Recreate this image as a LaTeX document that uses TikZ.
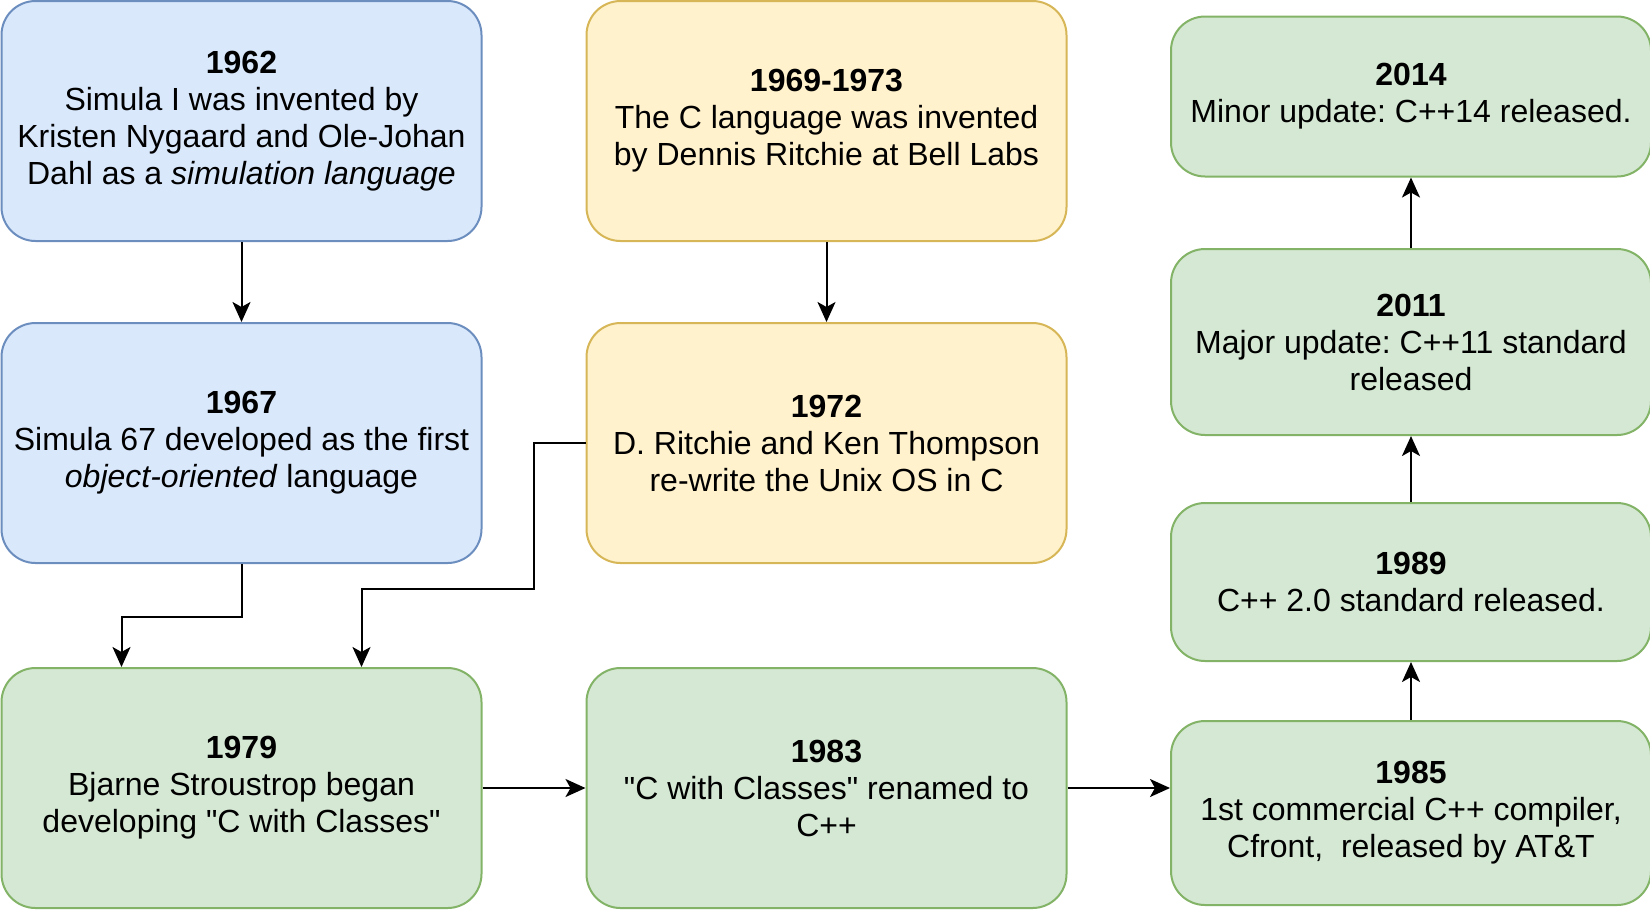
\documentclass[tikz,border=0pt]{standalone}
\usepackage{fontspec}
\setmainfont{Liberation Sans}
\usetikzlibrary{arrows.meta,positioning}
\definecolor{simfill}{HTML}{DAE8FC}
\definecolor{simline}{HTML}{6C8EBF}
\definecolor{cfill}{HTML}{FFF2CC}
\definecolor{cline}{HTML}{D6B656}
\definecolor{cppfill}{HTML}{D5E8D4}
\definecolor{cppline}{HTML}{82B366}
\newcommand{\qt}{\textquotedbl}
\frenchspacing

\begin{document}
\begin{tikzpicture}[
  x=0.5pt,y=-0.5pt,>={Stealth[length=10pt,width=9pt,inset=2.5pt]},
  event/.style={draw,line width=1pt,rounded corners=17pt,align=center,
    font=\fontsize{16}{18.5}\selectfont,inner sep=0pt,
    minimum width=240pt,minimum height=120pt},
  simula/.style={event,draw=simline,fill=simfill},
  clang/.style={event,draw=cline,fill=cfill},
  cpp/.style={event,draw=cppline,fill=cppfill},
  link/.style={->,line width=1pt}
]
\useasboundingbox (0,0) rectangle (1650,912);
\node[simula] (s62) at (241.5,121) {\textbf{1962}\\Simula I was invented by\\Kristen Nygaard and Ole-Johan\\Dahl as a \textit{simulation language}};
\node[simula] (s67) at (241.5,443) {\textbf{1967}\\Simula 67 developed as the first\\\textit{object-oriented} language};
\node[cpp]    (c79) at (241.5,788) {\textbf{1979}\\Bjarne Stroustrop began\\developing \qt C with Classes\qt};
\node[clang]  (c69) at (826.5,121) {\textbf{1969-1973}\\The C language was invented\\by Dennis Ritchie at Bell Labs};
\node[clang]  (c72) at (826.5,443) {\textbf{1972}\\D. Ritchie and Ken Thompson\\re-write the Unix OS in C};
\node[cpp]    (c83) at (826.5,788) {\textbf{1983}\\\qt C with Classes\qt\ renamed to\\C++};
\node[cpp,minimum height=92pt]  (c85) at (1411,813) {\textbf{1985}\\1st commercial C++ compiler,\\Cfront,\ \ released by AT\&T};
\node[cpp,minimum height=79pt]  (c89) at (1411,582) {\textbf{1989}\\C++ 2.0 standard released.};
\node[cpp,minimum height=93pt]  (c11) at (1411,342) {\textbf{2011}\\Major update: C++11 standard\\released};
\node[cpp,minimum height=80pt]  (c14) at (1411,96.5) {\textbf{2014}\\Minor update: C++14 released.};
\draw[link] (s62) -- (s67);
\draw[link] (c69) -- (c72);
\draw[link] (s67.south) -- ++(0,53) -| ([xshift=-60pt]c79.north);
\draw[link] (c72.west) -- ++(-52,0) -- ++(0,146) -| ([xshift=60pt]c79.north);
\draw[link] (c79) -- (c83);
\draw[link] (c83.east) -- (c83.east -| c85.west);
\draw[link] (c85) -- (c89);
\draw[link] (c89) -- (c11);
\draw[link] (c11) -- (c14);
\end{tikzpicture}
\end{document}
